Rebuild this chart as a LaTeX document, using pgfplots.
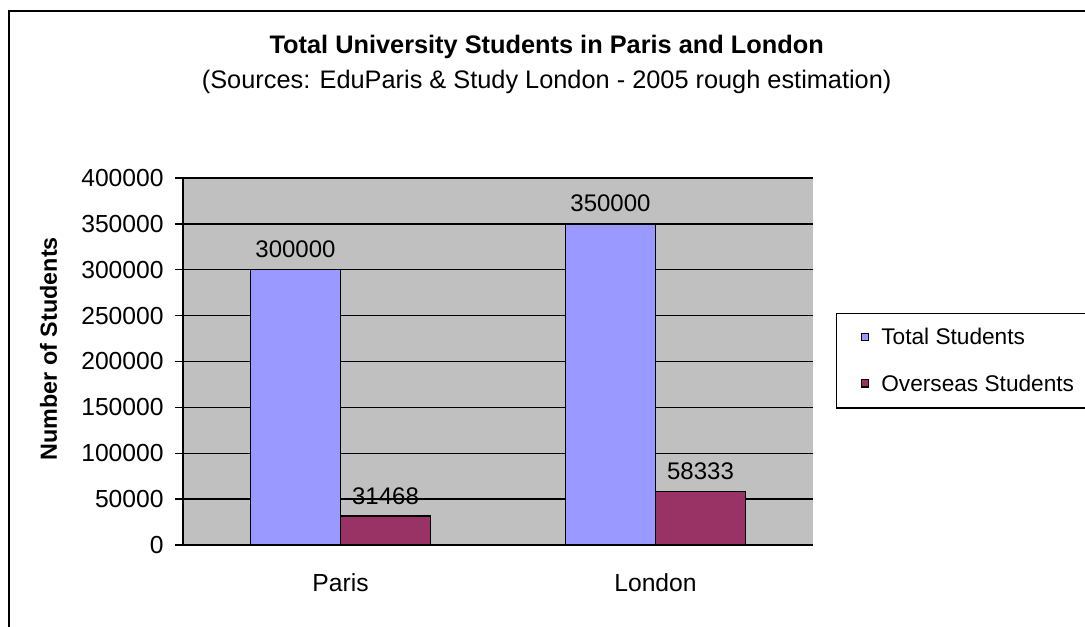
\documentclass[border=0pt]{standalone}
\usepackage{fontspec}
\setmainfont{Liberation Sans}
\usepackage{pgfplots}
\pgfplotsset{compat=1.18}
\definecolor{plotgray}{HTML}{C0C0C0}
\definecolor{totblue}{HTML}{9999FF}
\definecolor{ovpurple}{HTML}{993366}

\begin{document}
\begin{tikzpicture}
% 1 px of the reference = 0.75pt; y measured from the bottom edge
\useasboundingbox (0,0) rectangle (813.75pt,469.5pt);
\draw[line width=1.2pt] (6.75pt,-10pt) -- (6.75pt,461.25pt) -- (830pt,461.25pt);
\node[font=\fontsize{19}{22}\selectfont\bfseries] at (410pt,434pt) {Total University Students in Paris and London};
\node[font=\fontsize{19}{22}\selectfont] at (410pt,408pt) {(Sources: EduParis \& Study London - 2005 rough estimation)};
\begin{axis}[
    at={(137.25pt,60.75pt)}, anchor=south west,
    scale only axis,
    width=472.5pt, height=275.25pt,
    ybar,
    bar width=67.5pt,
    xmin=-0.5, xmax=1.5,
    ymin=0, ymax=400000,
    xtick={0,1},
    xticklabels={Paris,London},
    extra x ticks={-0.5,0.5,1.5},
    extra x tick labels={},
    extra x tick style={major tick length=7pt, tick style={black, line width=1pt}, grid=none},
    ytick={0,50000,...,400000},
    scaled y ticks=false,
    yticklabel style={/pgf/number format/fixed, /pgf/number format/1000 sep={}},
    /pgf/number format/assume math mode=true,
    tick label style={font=\fontsize{18.5}{21}\selectfont},
    ymajorgrids,
    grid style={black, line width=1pt},
    axis background/.style={fill=plotgray},
    axis x line*=bottom, axis y line*=left,
    axis line style={black, line width=1.5pt},
    x axis line style={-}, y axis line style={-},
    tick align=outside,
    major tick length=6pt,
    tick style={black, line width=1pt},
    xtick style={draw=none},
    xticklabel style={yshift=-12pt},
    yticklabel style={xshift=-5pt},
    ylabel={Number of Students},
    ylabel style={font=\fontsize{17.5}{20}\selectfont\bfseries, at={(axis description cs:-0.2135,0.535)}, anchor=center},
    nodes near coords,
    nodes near coords style={font=\fontsize{18}{21}\selectfont, /pgf/number format/fixed, /pgf/number format/1000 sep={}, yshift=5pt, black},
    every axis plot/.append style={draw=black, line width=1pt},
    legend cell align=left,
    legend style={at={(1.0365,0.632)}, anchor=north west, draw=black, line width=1pt, fill=white,
        font=\fontsize{17}{20}\selectfont, row sep=17pt, inner xsep=8pt, inner ysep=9pt,
        /tikz/every odd column/.append style={column sep=7pt}},
    legend image code/.code={\path (-10pt,0); \draw[#1, line width=0.8pt] (0pt,-2.2pt) rectangle (5.6pt,3.4pt);},
]
\addplot[fill=totblue, bar shift=-33.75pt] coordinates {(0,300000) (1,350000)};
\addlegendentry{Total Students}
\addplot[fill=ovpurple, bar shift=33.75pt] coordinates {(0,31468) (1,58333)};
\addlegendentry{Overseas Students}
\end{axis}
\end{tikzpicture}
\end{document}
